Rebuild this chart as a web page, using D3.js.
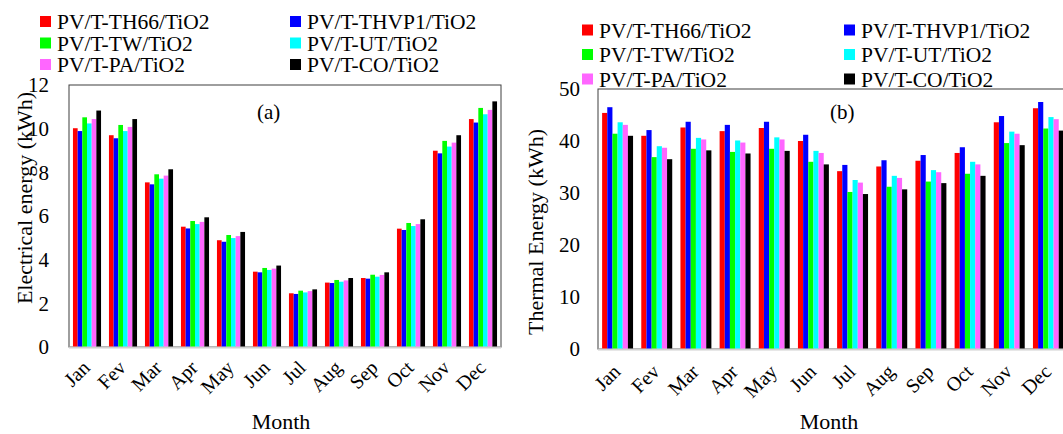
<!DOCTYPE html>
<html>
<head>
<meta charset="utf-8">
<script src="https://cdn.jsdelivr.net/npm/d3@7"></script>
<style>
  html, body { margin: 0; padding: 0; background: #fff; }
  svg { display: block; }
  svg text { font-family: "Liberation Serif", "Times New Roman", serif; }
</style>
</head>
<body>
<svg id="chart" width="1063" height="434"></svg>
<script>
// Monthly energy output of six PV/T collector configurations
const months = ["Jan", "Fev", "Mar", "Apr", "May", "Jun", "Jul", "Aug", "Sep", "Oct", "Nov", "Dec"];
const seriesNames = ["PV/T-TH66/TiO2", "PV/T-THVP1/TiO2", "PV/T-TW/TiO2", "PV/T-UT/TiO2", "PV/T-PA/TiO2", "PV/T-CO/TiO2"];
const seriesColors = ["#ff0000", "#0000ff", "#00ff00", "#00ffff", "#ff66ff", "#000000"];

// Electrical energy (kWh), one array per configuration
const elecTH66  = [10.02, 9.70, 7.54, 5.51, 4.89, 3.45, 2.46, 2.95, 3.16, 5.42, 8.99, 10.44];
const elecTHVP1 = [9.89, 9.56, 7.45, 5.43, 4.82, 3.42, 2.43, 2.93, 3.13, 5.36, 8.87, 10.28];
const elecTW    = [10.52, 10.17, 7.91, 5.77, 5.13, 3.62, 2.58, 3.07, 3.31, 5.68, 9.44, 10.95];
const elecUT    = [10.24, 9.89, 7.71, 5.63, 4.99, 3.53, 2.50, 2.99, 3.22, 5.54, 9.18, 10.66];
const elecPA    = [10.44, 10.08, 7.85, 5.73, 5.08, 3.59, 2.56, 3.05, 3.30, 5.63, 9.36, 10.86];
const elecCO    = [10.83, 10.44, 8.14, 5.94, 5.27, 3.73, 2.64, 3.16, 3.42, 5.85, 9.70, 11.25];

// Thermal energy (kWh), one array per configuration
const thermTH66  = [45.4, 41.0, 42.6, 41.9, 42.5, 40.0, 34.2, 35.1, 36.2, 37.7, 43.6, 46.3];
const thermTHVP1 = [46.5, 42.1, 43.7, 43.1, 43.7, 41.2, 35.4, 36.3, 37.3, 38.8, 44.8, 47.5];
const thermTW    = [41.4, 36.9, 38.5, 37.9, 38.5, 36.0, 30.2, 31.2, 32.2, 33.7, 39.6, 42.4];
const thermUT    = [43.6, 39.0, 40.6, 40.1, 40.7, 38.1, 32.5, 33.3, 34.4, 36.0, 41.8, 44.6];
const thermPA    = [43.1, 38.7, 40.3, 39.7, 40.3, 37.7, 32.0, 32.9, 34.0, 35.5, 41.4, 44.2];
const thermCO    = [41.0, 36.5, 38.2, 37.6, 38.1, 35.5, 29.8, 30.7, 31.9, 33.3, 39.2, 42.0];

const elecTicks  = [0, 2, 4, 6, 8, 10, 12];
const thermTicks = [0, 10, 20, 30, 40, 50];

const FONT = "Liberation Serif";
const svg = d3.select("#chart");

function drawPanel(cfg) {
  const g = svg.append("g");
  const { left, right, top, bottom } = cfg.box;

  const x0 = d3.scaleBand().domain(months).range([left, right])
    .paddingInner(cfg.pad).paddingOuter(cfg.pad / 2);
  const x1 = d3.scaleBand().domain(seriesNames).range([0, x0.bandwidth()]);
  const y = d3.scaleLinear().domain([0, cfg.max]).range([bottom, top]);

  // plot frame
  g.append("rect")
    .attr("x", left).attr("y", top)
    .attr("width", right - left).attr("height", bottom - top)
    .attr("fill", "none").attr("stroke", "#3f3f3f").attr("stroke-width", 1);

  // bars
  const rows = months.map((m, i) => ({ month: m, vals: cfg.series.map((s, k) => ({ name: seriesNames[k], color: seriesColors[k], v: s[i] })) }));
  g.selectAll("g.grp").data(rows).join("g")
    .attr("class", "grp")
    .attr("transform", d => `translate(${x0(d.month)},0)`)
    .selectAll("rect").data(d => d.vals).join("rect")
    .attr("x", d => x1(d.name))
    .attr("width", x1.bandwidth())
    .attr("y", d => y(d.v))
    .attr("height", d => y(0) - y(d.v))
    .attr("fill", d => d.color);

  // baseline
  g.append("line")
    .attr("x1", left).attr("x2", right)
    .attr("y1", bottom + 0.5).attr("y2", bottom + 0.5)
    .attr("stroke", "#d0d0d0").attr("stroke-width", 2);

  // y axis
  const ya = g.append("g").attr("transform", `translate(${left},0)`)
    .call(d3.axisLeft(y).tickValues(cfg.ticks).tickSize(0).tickPadding(cfg.yPad));
  ya.attr("font-family", FONT);
  ya.select(".domain").remove();
  ya.selectAll("text").attr("font-size", 21).attr("fill", "#000");

  // x axis month labels
  const xa = g.append("g").attr("transform", `translate(0,${bottom})`)
    .call(d3.axisBottom(x0).tickSize(0).tickFormat(d => d));
  xa.attr("font-family", FONT);
  xa.select(".domain").remove();
  xa.selectAll("text")
    .attr("font-size", 20).attr("fill", "#000")
    .attr("text-anchor", "end")
    .attr("dy", null).attr("y", 0)
    .attr("transform", `translate(4,${cfg.xLabOff}) rotate(-45)`);

  // axis titles
  g.append("text")
    .attr("x", (left + right) / 2 - 4).attr("y", 429)
    .attr("text-anchor", "middle").attr("font-size", 22).text("Month");
  g.append("text")
    .attr("transform", `translate(${cfg.yTitle[0]},${cfg.yTitle[1]}) rotate(-90)`)
    .attr("text-anchor", "middle").attr("font-size", 22).text(cfg.yLabel);

  // panel tag
  g.append("text").attr("x", cfg.tag[0]).attr("y", cfg.tag[1])
    .attr("font-size", 21).text(cfg.tagText);

  // legend, two columns of three
  const lg = g.append("g");
  seriesNames.forEach((name, k) => {
    const col = k % 2, row = Math.floor(k / 2);
    const lx = cfg.legend.cols[col], ly = cfg.legend.y0 + row * cfg.legend.dy;
    lg.append("rect").attr("x", lx).attr("y", ly - 6).attr("width", 11).attr("height", 11)
      .attr("fill", seriesColors[k]);
    lg.append("text").attr("x", lx + 17).attr("y", ly + 7)
      .attr("font-size", 21.5).text(name);
  });
}

drawPanel({
  box: { left: 69, right: 501, top: 85, bottom: 347 },
  pad: 0.22, max: 12, ticks: elecTicks, yPad: 20,
  series: [elecTH66, elecTHVP1, elecTW, elecUT, elecPA, elecCO],
  xLabOff: 22,
  yLabel: "Electrical energy (kWh)", yTitle: [32, 198],
  tag: [257, 119], tagText: "(a)",
  legend: { cols: [40, 290], y0: 22, dy: 21.5 }
});

drawPanel({
  box: { left: 598, right: 1068, top: 89, bottom: 349 },
  pad: 0.21, max: 50, ticks: thermTicks, yPad: 18,
  series: [thermTH66, thermTHVP1, thermTW, thermUT, thermPA, thermCO],
  xLabOff: 24,
  yLabel: "Thermal Energy (kWh)", yTitle: [543, 232],
  tag: [830, 119], tagText: "(b)",
  legend: { cols: [582, 844], y0: 30.5, dy: 24.5 }
});

// every label in one serif face
svg.selectAll("text").attr("font-family", FONT);
</script>
</body>
</html>
